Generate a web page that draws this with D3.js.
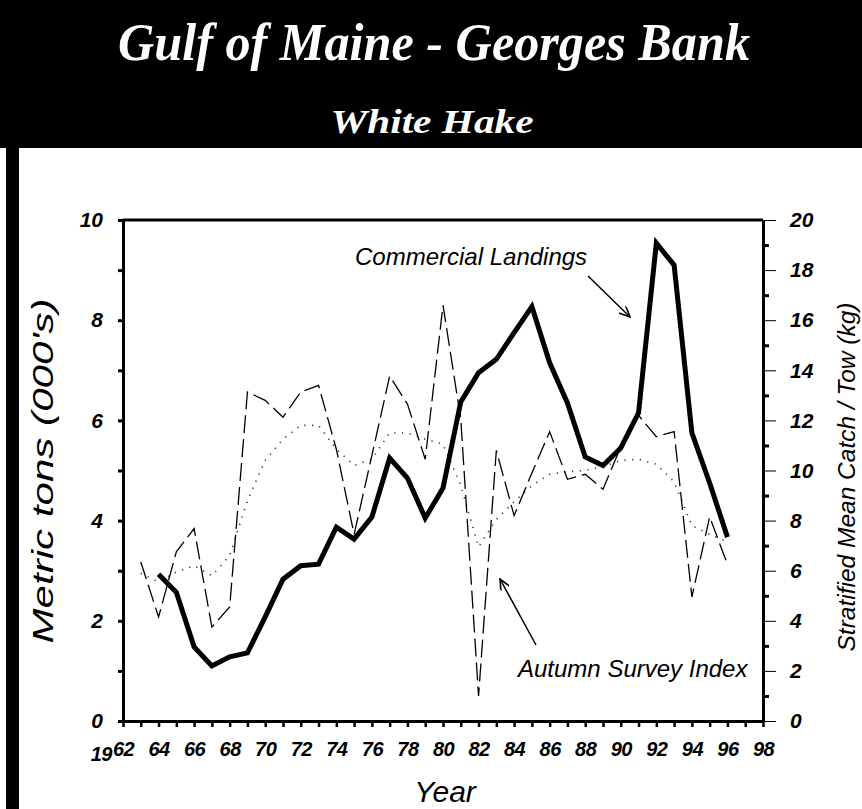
<!DOCTYPE html>
<html><head><meta charset="utf-8">
<script src="https://cdn.jsdelivr.net/npm/d3@7"></script>
<style>body{margin:0;background:#fff}svg{display:block}</style>
</head><body><svg id="c" width="862" height="809"></svg>
<script>
// ---- data ----
const titleText = "Gulf of Maine - Georges Bank";
const subtitleText = "White Hake";
const landingYears = d3.range(1964, 1997);
const landings = [2.93,2.57,1.48,1.10,1.28,1.36,2.08,2.83,3.10,3.13,3.87,3.63,4.07,5.25,4.85,4.05,4.65,6.37,6.95,7.22,7.75,8.27,7.15,6.35,5.27,5.10,5.45,6.15,9.54,9.10,5.75,4.75,3.67];
const surveyYears = d3.range(1963, 1997);
const surveyIndex = [6.35,4.15,6.75,7.68,3.75,4.55,13.13,12.8,12.13,13.13,13.4,10.85,7.45,10.6,13.77,12.65,10.45,16.6,12.05,1.0,10.8,8.2,9.9,11.55,9.65,9.85,9.25,10.95,12.2,11.35,11.55,4.95,8.15,6.25];
const smoothIndex = [5.9,5.55,5.95,6.2,5.8,6.6,8.8,10.4,11.25,11.8,11.8,10.85,10.2,10.45,11.5,11.5,11.25,11.05,9.4,6.95,8.05,8.75,9.4,9.85,9.95,10.0,10.15,10.4,10.45,10.25,9.55,7.8,7.45,7.15];
const leftTicks = d3.range(0, 11, 1);
const rightTicksMajor = d3.range(0, 21, 2);
const rightTicksMinor = d3.range(1, 20, 2);
const xTicks = d3.range(1962, 1999, 1);

const svg = d3.select("#c");
const FONT = "'Liberation Sans', Arial, sans-serif";

// header & border
svg.append("rect").attr("x",0).attr("y",0).attr("width",862).attr("height",148).attr("fill","#000");
svg.append("rect").attr("x",6).attr("y",0).attr("width",13).attr("height",809).attr("fill","#000");
svg.append("text").attr("x",434).attr("y",60).attr("text-anchor","middle")
  .attr("font-family","'Liberation Serif', serif").attr("font-style","italic").attr("font-weight","bold")
  .attr("font-size",52).attr("fill","#fff")
  .attr("textLength",632).attr("lengthAdjust","spacingAndGlyphs").text(titleText);
svg.append("text").attr("x",432).attr("y",133).attr("text-anchor","middle")
  .attr("font-family","'Liberation Serif', serif").attr("font-style","italic").attr("font-weight","bold")
  .attr("font-size",33).attr("fill","#fff")
  .attr("textLength",203).attr("lengthAdjust","spacingAndGlyphs").text(subtitleText);

// scales
const x = d3.scaleLinear().domain([1962,1998]).range([123,763]);
const yL = d3.scaleLinear().domain([0,10]).range([721,220]);
const yR = d3.scaleLinear().domain([0,20]).range([721,220]);

// top border
svg.append("line").attr("x1",x(1962)).attr("x2",x(1998)).attr("y1",yL(10)).attr("y2",yL(10))
  .attr("stroke","#000").attr("stroke-width",3);

function styleAxis(g, domainW, tickW){
  g.select(".domain").attr("stroke-width",domainW);
  g.selectAll(".tick line").attr("stroke-width",tickW);
  g.selectAll("text").attr("font-family",FONT).attr("font-style","italic").attr("font-weight","bold").attr("fill","#000");
}

// left axis
const gl = svg.append("g").attr("transform",`translate(${x(1962)},0)`)
  .call(d3.axisLeft(yL).tickValues(leftTicks).tickSize(5).tickSizeOuter(0).tickPadding(15)
    .tickFormat(d => d % 2 === 0 ? d : ""));
styleAxis(gl, 3, 3);
gl.selectAll("text").attr("font-size",21);

// right axis: minor thick short, major thin long
const grm = svg.append("g").attr("transform",`translate(${x(1998)},0)`)
  .call(d3.axisRight(yR).tickValues(rightTicksMinor).tickSize(6).tickSizeOuter(0).tickFormat(""));
styleAxis(grm, 3, 3);
const grM = svg.append("g").attr("transform",`translate(${x(1998)},0)`)
  .call(d3.axisRight(yR).tickValues(rightTicksMajor).tickSize(13).tickSizeOuter(0).tickPadding(14));
styleAxis(grM, 3, 1);
grM.selectAll("text").attr("font-size",21);

// bottom axis
const gb = svg.append("g").attr("transform",`translate(0,${yL(0)})`)
  .call(d3.axisBottom(x).tickValues(xTicks).tickSize(6).tickSizeOuter(0).tickPadding(15)
    .tickFormat(d => d % 2 === 0 ? String(d % 100) : ""));
styleAxis(gb, 3, 2.5);
gb.selectAll("text").attr("font-size",20).attr("letter-spacing",-0.5);
svg.append("text").attr("x",x(1962)-11).attr("y",761).attr("text-anchor","end")
  .attr("font-family",FONT).attr("font-style","italic").attr("font-weight","bold").attr("font-size",20).attr("letter-spacing",-0.5).text("19");

// axis titles
svg.append("text").attr("transform","translate(53,471) rotate(-90)").attr("text-anchor","middle")
  .attr("font-family",FONT).attr("font-style","italic").attr("font-size",29)
  .attr("textLength",345).attr("lengthAdjust","spacingAndGlyphs").text("Metric tons (000's)");
svg.append("text").attr("transform","translate(855,477) rotate(-90)").attr("text-anchor","middle")
  .attr("font-family",FONT).attr("font-style","italic").attr("font-size",24.5).text("Stratified Mean Catch / Tow (kg)");
svg.append("text").attr("x",445).attr("y",802).attr("text-anchor","middle")
  .attr("font-family",FONT).attr("font-style","italic").attr("font-size",30).text("Year");

// lines
const lineL = d3.line().x(d => x(d[0])).y(d => yL(d[1]));
const lineR = d3.line().x(d => x(d[0])).y(d => yR(d[1]));
svg.append("path").datum(surveyYears.map((yr,i)=>[yr,smoothIndex[i]])).attr("d",lineR)
  .attr("fill","none").attr("stroke","#333").attr("stroke-width",1.6).attr("stroke-dasharray","1.2,6.5");
svg.append("path").datum(surveyYears.map((yr,i)=>[yr,surveyIndex[i]])).attr("d",lineR)
  .attr("fill","none").attr("stroke","#000").attr("stroke-width",1.3).attr("stroke-dasharray","18,6");
svg.append("path").datum(landingYears.map((yr,i)=>[yr,landings[i]])).attr("d",lineL)
  .attr("fill","none").attr("stroke","#000").attr("stroke-width",5).attr("stroke-linejoin","miter");

// annotations
svg.append("defs").append("marker").attr("id","ah").attr("viewBox","0 0 12 10").attr("refX",11).attr("refY",5)
  .attr("markerWidth",12).attr("markerHeight",10).attr("markerUnits","userSpaceOnUse").attr("orient","auto")
  .append("path").attr("d","M0,0 L11,5 L0,10").attr("fill","none").attr("stroke","#000").attr("stroke-width",1.6);
svg.append("text").attr("x",355).attr("y",265).attr("font-family",FONT).attr("font-style","italic")
  .attr("font-size",24).text("Commercial Landings");
svg.append("line").attr("x1",588).attr("y1",276).attr("x2",630).attr("y2",317)
  .attr("stroke","#000").attr("stroke-width",1.5).attr("marker-end","url(#ah)");
svg.append("text").attr("x",518).attr("y",677).attr("font-family",FONT).attr("font-style","italic")
  .attr("font-size",24).text("Autumn Survey Index");
svg.append("line").attr("x1",536).attr("y1",645).attr("x2",500).attr("y2",579)
  .attr("stroke","#000").attr("stroke-width",1.5).attr("marker-end","url(#ah)");
</script></body></html>
